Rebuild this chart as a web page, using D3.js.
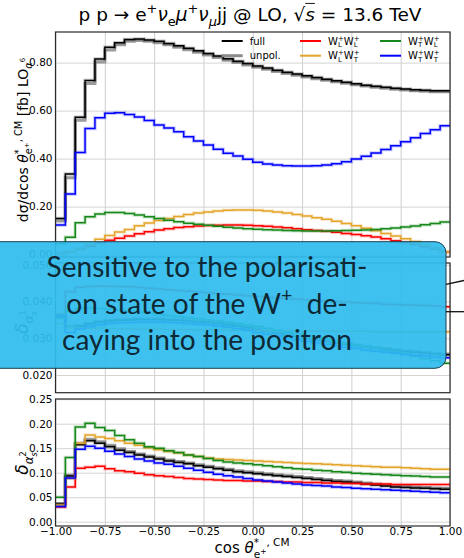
<!DOCTYPE html>
<html>
<head>
<meta charset="utf-8">
<script src="https://cdn.jsdelivr.net/npm/d3@7"></script>
<style>
  body { margin: 0; background: #fff; }
  svg { display: block; font-family: "DejaVu Sans", sans-serif; }
  text { white-space: pre; }
</style>
</head>
<body>
<svg id="chart" width="464" height="558"></svg>
<script>
// bin edges in cos(theta), 40 bins of 0.05
var binEdges = d3.range(41).map(function(i) { return +(-1 + i * 0.05).toFixed(2); });
var xTicks = [-1, -0.75, -0.5, -0.25, 0, 0.25, 0.5, 0.75, 1];
var topTicks = [0, 0.2, 0.4, 0.6, 0.8];
var midTicks = [0.02, 0.03, 0.04, 0.05];
var botTicks = [0, 0.05, 0.1, 0.15, 0.2, 0.25];

// top panel: dsigma/dcos [fb]
var topFull  = [0.150,0.336,0.572,0.725,0.815,0.864,0.883,0.896,0.898,0.894,0.889,0.880,0.870,0.860,0.849,0.838,0.827,0.816,0.806,0.796,0.786,0.777,0.768,0.760,0.752,0.745,0.738,0.731,0.724,0.718,0.712,0.706,0.701,0.697,0.693,0.690,0.687,0.685,0.683,0.683];
var topUnpol = [0.140,0.320,0.560,0.713,0.802,0.852,0.874,0.889,0.892,0.889,0.883,0.874,0.864,0.854,0.843,0.832,0.821,0.810,0.800,0.790,0.781,0.772,0.763,0.755,0.747,0.740,0.733,0.726,0.720,0.714,0.708,0.702,0.697,0.693,0.689,0.686,0.683,0.681,0.679,0.679];
var topLL = [0.005,0.012,0.022,0.035,0.048,0.060,0.068,0.077,0.087,0.095,0.102,0.108,0.113,0.116,0.119,0.121,0.122,0.123,0.123,0.122,0.120,0.118,0.115,0.112,0.108,0.104,0.100,0.097,0.093,0.088,0.084,0.079,0.073,0.066,0.058,0.050,0.042,0.033,0.023,0.012];
var topLT = [0.005,0.012,0.025,0.045,0.064,0.080,0.094,0.105,0.120,0.132,0.142,0.150,0.159,0.167,0.173,0.178,0.182,0.185,0.186,0.186,0.185,0.182,0.178,0.173,0.167,0.161,0.154,0.147,0.139,0.130,0.120,0.110,0.099,0.088,0.077,0.066,0.055,0.042,0.028,0.012];
var topTL = [0.045,0.072,0.133,0.158,0.169,0.175,0.175,0.171,0.165,0.158,0.150,0.143,0.137,0.131,0.126,0.122,0.118,0.114,0.111,0.108,0.106,0.104,0.102,0.100,0.099,0.098,0.098,0.098,0.099,0.100,0.101,0.103,0.105,0.108,0.111,0.115,0.119,0.124,0.130,0.136];
var topTT = [0.123,0.252,0.425,0.525,0.570,0.589,0.591,0.584,0.573,0.559,0.540,0.528,0.512,0.491,0.473,0.457,0.439,0.422,0.411,0.397,0.385,0.377,0.373,0.370,0.369,0.369,0.370,0.373,0.379,0.387,0.398,0.410,0.423,0.438,0.454,0.470,0.487,0.505,0.520,0.537];

// middle panel: delta alpha_s^1
var midFull  = [0.0362,0.0330,0.0333,0.0339,0.0344,0.0347,0.0349,0.0350,0.0351,0.0351,0.0351,0.0350,0.0349,0.0347,0.0345,0.0343,0.0340,0.0337,0.0333,0.0329,0.0324,0.0319,0.0314,0.0309,0.0304,0.0299,0.0295,0.0291,0.0287,0.0283,0.0280,0.0276,0.0273,0.0270,0.0267,0.0264,0.0262,0.0260,0.0257,0.0255];
var midUnpol = [0.0364,0.0332,0.0335,0.0341,0.0346,0.0349,0.0351,0.0352,0.0353,0.0353,0.0353,0.0352,0.0351,0.0349,0.0347,0.0345,0.0342,0.0339,0.0335,0.0331,0.0326,0.0321,0.0316,0.0311,0.0306,0.0301,0.0297,0.0293,0.0289,0.0285,0.0282,0.0278,0.0275,0.0272,0.0269,0.0266,0.0264,0.0262,0.0259,0.0257];
var midLL = [0.0361,0.0427,0.0439,0.0441,0.0442,0.0442,0.0441,0.0440,0.0438,0.0436,0.0434,0.0432,0.0430,0.0428,0.0426,0.0424,0.0422,0.0420,0.0418,0.0416,0.0414,0.0412,0.0410,0.0408,0.0407,0.0405,0.0403,0.0402,0.0400,0.0399,0.0397,0.0396,0.0395,0.0393,0.0392,0.0391,0.0390,0.0389,0.0388,0.0386];
var midLT = [0.0340,0.0330,0.0327,0.0327,0.0327,0.0326,0.0326,0.0326,0.0325,0.0325,0.0325,0.0324,0.0324,0.0324,0.0323,0.0323,0.0323,0.0322,0.0322,0.0322,0.0321,0.0321,0.0321,0.0320,0.0320,0.0320,0.0320,0.0319,0.0319,0.0319,0.0319,0.0319,0.0318,0.0318,0.0318,0.0318,0.0318,0.0318,0.0318,0.0318];
var midTL = [0.0355,0.0375,0.0382,0.0382,0.0381,0.0379,0.0377,0.0374,0.0371,0.0368,0.0365,0.0362,0.0359,0.0356,0.0353,0.0350,0.0347,0.0343,0.0340,0.0336,0.0332,0.0327,0.0322,0.0317,0.0312,0.0307,0.0302,0.0297,0.0292,0.0287,0.0282,0.0277,0.0272,0.0267,0.0262,0.0257,0.0251,0.0245,0.0239,0.0232];
var midTT = [0.0360,0.0316,0.0325,0.0332,0.0337,0.0340,0.0342,0.0343,0.0344,0.0344,0.0344,0.0343,0.0342,0.0340,0.0338,0.0336,0.0333,0.0330,0.0326,0.0322,0.0316,0.0311,0.0306,0.0301,0.0296,0.0291,0.0287,0.0283,0.0279,0.0275,0.0272,0.0268,0.0265,0.0262,0.0259,0.0256,0.0254,0.0252,0.0249,0.0247];

// bottom panel: delta alpha_s^2
var botFull  = [0.036,0.093,0.157,0.165,0.160,0.153,0.146,0.141,0.136,0.132,0.128,0.124,0.121,0.118,0.114,0.111,0.108,0.105,0.102,0.100,0.098,0.096,0.094,0.092,0.090,0.088,0.086,0.084,0.082,0.081,0.079,0.077,0.075,0.073,0.071,0.070,0.069,0.068,0.067,0.066];
var botUnpol = [0.037,0.095,0.160,0.168,0.163,0.156,0.149,0.143,0.138,0.134,0.130,0.126,0.123,0.120,0.116,0.113,0.110,0.107,0.104,0.102,0.100,0.098,0.096,0.094,0.092,0.090,0.088,0.086,0.084,0.083,0.081,0.079,0.077,0.075,0.073,0.072,0.071,0.070,0.069,0.068];
var botLL = [0.030,0.071,0.109,0.111,0.113,0.108,0.104,0.102,0.099,0.096,0.094,0.092,0.090,0.088,0.087,0.086,0.085,0.084,0.084,0.083,0.083,0.082,0.082,0.081,0.081,0.080,0.080,0.079,0.079,0.078,0.078,0.077,0.077,0.077,0.076,0.076,0.076,0.076,0.076,0.076];
var botLT = [0.034,0.088,0.160,0.177,0.173,0.170,0.165,0.160,0.156,0.151,0.147,0.143,0.140,0.136,0.133,0.130,0.128,0.127,0.126,0.125,0.124,0.123,0.122,0.121,0.120,0.119,0.118,0.117,0.116,0.115,0.114,0.113,0.112,0.111,0.111,0.110,0.109,0.108,0.107,0.107];
var botTL = [0.050,0.131,0.193,0.201,0.192,0.186,0.176,0.167,0.160,0.153,0.150,0.145,0.141,0.136,0.133,0.129,0.125,0.122,0.120,0.118,0.116,0.114,0.112,0.110,0.108,0.107,0.105,0.104,0.102,0.101,0.099,0.098,0.097,0.096,0.095,0.094,0.093,0.092,0.091,0.091];
var botTT = [0.031,0.089,0.148,0.154,0.150,0.144,0.138,0.133,0.128,0.124,0.120,0.117,0.113,0.109,0.105,0.101,0.097,0.094,0.091,0.088,0.085,0.083,0.081,0.079,0.077,0.075,0.074,0.073,0.071,0.070,0.068,0.067,0.066,0.065,0.064,0.063,0.062,0.061,0.060,0.059];

var colors = { full: '#000000', unpol: '#8c8c8c', LL: '#ff0000', LT: '#e4a52a', TL: '#16881a', TT: '#0000ff' };

var svg = d3.select('#chart');
var x = d3.scaleLinear().domain([-1, 1]).range([55.5, 450]);

// small helper for mathtext-like labels, pieces laid out left to right
function richText(parent, pieces, size, color, family) {
  var g = parent.append('g').style('fill', color || '#000');
  if (family) g.style('font-family', family);
  var pos = 0, pending = 0;
  pieces.forEach(function(p) {
    var s = size * (p.s || 1);
    var t = g.append('text')
      .attr('x', pos)
      .attr('y', -(p.up || 0) * size)
      .style('font-size', s + 'px')
      .style('font-style', p.it ? 'italic' : 'normal')
      .text(p.t);
    var w = t.node().getComputedTextLength();
    if (p.over) {
      g.append('line')
        .attr('x1', pos).attr('x2', pos + w)
        .attr('y1', -size * 0.95).attr('y2', -size * 0.95)
        .attr('stroke', color || '#000').attr('stroke-width', 0.9);
    }
    if (p.stack) { pending = w; }
    else { pos += Math.max(w, pending); pending = 0; }
  });
  return { g: g, width: pos };
}

function drawPanel(name, yRange, yDomain, ticks, fmt, series) {
  var y = d3.scaleLinear().domain(yDomain).range(yRange);
  var g = svg.append('g').attr('class', name);

  g.append('clipPath').attr('id', 'clip-' + name)
    .append('rect')
    .attr('x', x.range()[0]).attr('y', yRange[1])
    .attr('width', x.range()[1] - x.range()[0])
    .attr('height', yRange[0] - yRange[1]);

  // grid
  g.append('g')
    .attr('transform', 'translate(0,' + yRange[0] + ')')
    .call(d3.axisBottom(x).tickValues(xTicks).tickSize(-(yRange[0] - yRange[1])).tickFormat(''))
    .call(function(a) { a.select('.domain').remove(); a.selectAll('line').attr('stroke', '#cfcfcf'); });
  g.append('g')
    .attr('transform', 'translate(' + x.range()[0] + ',0)')
    .call(d3.axisLeft(y).tickValues(ticks).tickSize(-(x.range()[1] - x.range()[0])).tickPadding(3).tickFormat(d3.format(fmt)))
    .call(function(a) {
      a.select('.domain').remove();
      a.selectAll('line').attr('stroke', '#d4d4d4');
      a.selectAll('text').style('font-size', '10.5px').style('font-family', '"DejaVu Sans"').attr('fill', '#000');
    });

  var line = d3.line()
    .x(function(d) { return x(d[0]); })
    .y(function(d) { return y(d[1]); })
    .curve(d3.curveStepAfter);

  var plot = g.append('g').attr('clip-path', 'url(#clip-' + name + ')');
  series.forEach(function(s) {
    var pts = s.values.map(function(v, i) { return [binEdges[i], v]; });
    pts.push([binEdges[40], s.values[39]]);
    if (s.key === 'unpol') {
      plot.append('path').datum(pts).attr('d', line)
        .attr('fill', 'none').attr('stroke', colors.unpol).attr('stroke-width', 3).attr('opacity', 0.85);
    } else {
      plot.append('path').datum(pts).attr('d', line)
        .attr('fill', 'none').attr('stroke', colors[s.key]).attr('stroke-width', 3.5).attr('opacity', 0.22);
      plot.append('path').datum(pts).attr('d', line)
        .attr('fill', 'none').attr('stroke', colors[s.key]).attr('stroke-width', 1.5);
    }
  });

  g.append('rect')
    .attr('x', x.range()[0]).attr('y', yRange[1])
    .attr('width', x.range()[1] - x.range()[0])
    .attr('height', yRange[0] - yRange[1])
    .attr('fill', 'none').attr('stroke', '#2b2b2b').attr('stroke-width', 1.2);
  return y;
}

drawPanel('top', [257, 32], [-0.01, 0.9275], topTicks, '.2f', [
  { key: 'unpol', values: topUnpol }, { key: 'full', values: topFull },
  { key: 'LL', values: topLL }, { key: 'LT', values: topLT },
  { key: 'TL', values: topTL }, { key: 'TT', values: topTT }
]);
drawPanel('mid', [392.7, 263], [0.01518, 0.0505], midTicks, '.3f', [
  { key: 'unpol', values: midUnpol }, { key: 'full', values: midFull },
  { key: 'LL', values: midLL }, { key: 'LT', values: midLT },
  { key: 'TL', values: midTL }, { key: 'TT', values: midTT }
]);
drawPanel('bot', [526, 399], [-0.0088, 0.2504], botTicks, '.2f', [
  { key: 'unpol', values: botUnpol }, { key: 'full', values: botFull },
  { key: 'LL', values: botLL }, { key: 'LT', values: botLT },
  { key: 'TL', values: botTL }, { key: 'TT', values: botTT }
]);

// x tick labels under bottom panel
svg.append('g')
  .attr('transform', 'translate(0,526)')
  .call(d3.axisBottom(x).tickValues(xTicks).tickSize(0).tickPadding(2).tickFormat(d3.format('.2f')))
  .call(function(a) {
    a.select('.domain').remove();
    a.selectAll('text').style('font-size', '10.5px').style('font-family', '"DejaVu Sans"').attr('fill', '#000');
  });

// legend
var legendRows = [41, 55.7];
var legendCols = [221.7, 300, 380];
var legendItems = [
  { key: 'full', col: 0, row: 0, label: [{ t: 'full' }] },
  { key: 'unpol', col: 0, row: 1, label: [{ t: 'unpol.' }] },
  { key: 'LL', col: 1, row: 0, label: [{ t: 'W' }, { t: '+', s: 0.7, up: 0.4, stack: true }, { t: 'L', s: 0.7, up: -0.25 }, { t: 'W' }, { t: '+', s: 0.7, up: 0.4, stack: true }, { t: 'L', s: 0.7, up: -0.25 }] },
  { key: 'LT', col: 1, row: 1, label: [{ t: 'W' }, { t: '+', s: 0.7, up: 0.4, stack: true }, { t: 'L', s: 0.7, up: -0.25 }, { t: 'W' }, { t: '+', s: 0.7, up: 0.4, stack: true }, { t: 'T', s: 0.7, up: -0.25 }] },
  { key: 'TL', col: 2, row: 0, label: [{ t: 'W' }, { t: '+', s: 0.7, up: 0.4, stack: true }, { t: 'T', s: 0.7, up: -0.25 }, { t: 'W' }, { t: '+', s: 0.7, up: 0.4, stack: true }, { t: 'L', s: 0.7, up: -0.25 }] },
  { key: 'TT', col: 2, row: 1, label: [{ t: 'W' }, { t: '+', s: 0.7, up: 0.4, stack: true }, { t: 'T', s: 0.7, up: -0.25 }, { t: 'W' }, { t: '+', s: 0.7, up: 0.4, stack: true }, { t: 'T', s: 0.7, up: -0.25 }] }
];
var legend = svg.append('g').attr('class', 'legend');
legendItems.forEach(function(it) {
  var lx = legendCols[it.col], ly = legendRows[it.row];
  legend.append('line')
    .attr('x1', lx).attr('x2', lx + 21).attr('y1', ly).attr('y2', ly)
    .attr('stroke', colors[it.key]).attr('stroke-width', it.key === 'unpol' ? 3 : 2);
  var r = richText(legend, it.label, 10, '#000');
  r.g.attr('transform', 'translate(' + (lx + 28) + ',' + (ly + 3.6) + ')');
});

// title
var title = richText(svg, [
  { t: 'p p → e' }, { t: '+', s: 0.7, up: 0.45 }, { t: 'ν', it: true }, { t: 'e', s: 0.7, up: -0.25 },
  { t: 'μ', it: true }, { t: '+', s: 0.7, up: 0.45 }, { t: 'ν', it: true }, { t: 'μ', s: 0.7, up: -0.25, it: true },
  { t: 'jj @ LO, √' }, { t: 's', it: true, over: true }, { t: ' = 13.6 TeV' }
], 18.5, '#000');
title.g.attr('transform', 'translate(' + (250 - title.width / 2) + ',21)');

// axis labels
var yTop = richText(svg, [
  { t: 'dσ/dcos ' }, { t: 'θ', it: true }, { t: '*', s: 0.7, up: 0.45, stack: true }, { t: 'e', s: 0.7, up: -0.3 },
  { t: '+', s: 0.5, up: -0.05 }, { t: ', CM', s: 0.7, up: 0.45 }, { t: ' [fb] LO' },
  { t: 'α', s: 0.7, up: -0.25, it: true }, { t: '6', s: 0.5, up: 0.2 }
], 14, '#000');
yTop.g.attr('transform', 'translate(28,140) rotate(-90) translate(' + (-yTop.width / 2) + ',0)');

function deltaLabel(order, cy) {
  var r = richText(svg, [
    { t: 'δ', it: true }, { t: 'α', s: 0.7, up: -0.3, it: true },
    { t: order, s: 0.48, up: 0.1, stack: true }, { t: 's', s: 0.48, up: -0.5, it: true }
  ], 17, '#000');
  r.g.attr('transform', 'translate(28,' + cy + ') rotate(-90) translate(' + (-r.width / 2) + ',0)');
}
deltaLabel('1', 322);
deltaLabel('2', 463);

var xLab = richText(svg, [
  { t: 'cos ' }, { t: 'θ', it: true }, { t: '*', s: 0.7, up: 0.45, stack: true }, { t: 'e', s: 0.7, up: -0.3 },
  { t: '+', s: 0.5, up: -0.05 }, { t: ', CM', s: 0.7, up: 0.45 }
], 15, '#000');
xLab.g.attr('transform', 'translate(' + (252 - xLab.width / 2) + ',553)');

// overlay callout box
var box = svg.append('g').attr('class', 'callout');
box.append('rect')
  .attr('x', -20).attr('y', 241.7).attr('width', 466).attr('height', 126.6)
  .attr('rx', 11).attr('ry', 11)
  .attr('fill', '#2fbcee').attr('fill-opacity', 0.93)
  .attr('stroke', '#1d3f4f').attr('stroke-width', 1);

var boxLines = [
  [{ t: 'Sensitive to the polarisati-' }],
  [{ t: 'on state of the W' }, { t: '+', s: 0.7, up: 0.42 }, { t: '  de-' }],
  [{ t: 'caying into the positron' }]
];
var boxBase = [277, 313.5, 350];
boxLines.forEach(function(pieces, i) {
  var r = richText(box, pieces, 28, '#0e2935', 'Lato, sans-serif');
  r.g.attr('transform', 'translate(' + (207 - r.width / 2) + ',' + boxBase[i] + ')');
});

// pointer lines leaving the box to the right
box.append('line').attr('x1', 446).attr('y1', 284.3).attr('x2', 464).attr('y2', 280.5)
  .attr('stroke', '#111').attr('stroke-width', 1.3);
box.append('line').attr('x1', 446).attr('y1', 311.7).attr('x2', 464).attr('y2', 311.7)
  .attr('stroke', '#111').attr('stroke-width', 1.3);
</script>
</body>
</html>
